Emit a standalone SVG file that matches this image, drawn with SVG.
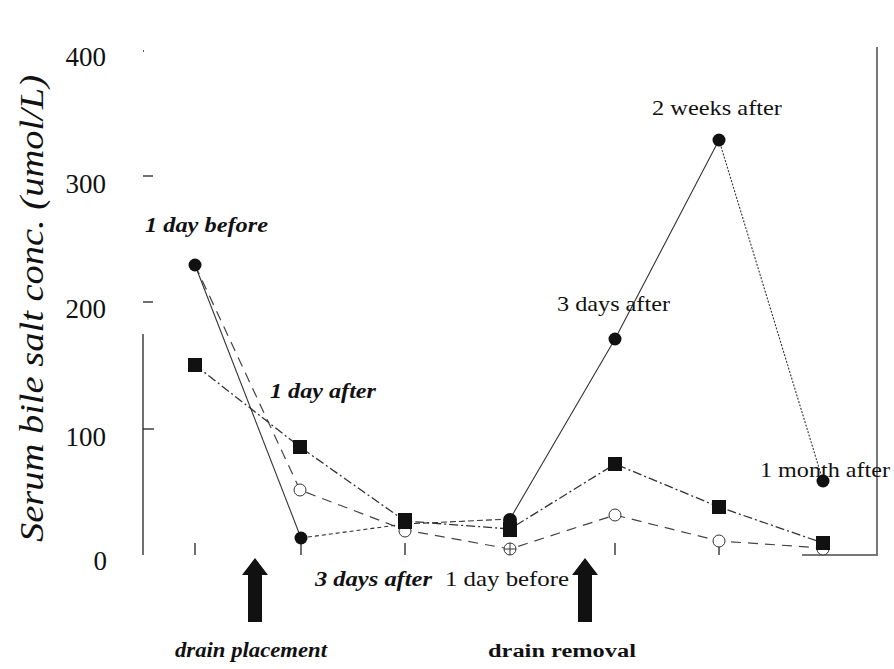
<svg xmlns="http://www.w3.org/2000/svg" width="894" height="669" viewBox="0 0 894 669">
<defs>
<style>
.num{font-family:"Liberation Serif",serif;font-size:27px;fill:#111}
.lbl{font-family:"Liberation Serif",serif;font-size:21px;fill:#111}
.bi{font-family:"Liberation Serif",serif;font-size:21px;font-weight:bold;font-style:italic;fill:#111}
.b{font-family:"Liberation Serif",serif;font-size:18px;font-weight:bold;fill:#111}
.ax{stroke:#222;stroke-width:1.3;fill:none}
.box{stroke:#777;stroke-width:2;fill:none}
.sa{stroke:#333;stroke-width:1.1;fill:none}
.sb{stroke:#333;stroke-width:1.3;fill:none;stroke-dasharray:9,3,2,3}
.sc{stroke:#444;stroke-width:1.2;fill:none;stroke-dasharray:10,7}
.fc{fill:#111}
.sq{fill:#111}
.oc{fill:#fff;stroke:#333;stroke-width:1}
.arr{fill:#111}
</style>
</defs>
<rect width="894" height="669" fill="#fff"/>
<g id="axes">
<line class="ax" x1="143" y1="334" x2="143" y2="555"/>
<line class="ax" x1="143" y1="51" x2="144" y2="51"/>
<line class="ax" x1="143" y1="176" x2="153" y2="176"/>
<line class="ax" x1="143" y1="302" x2="153" y2="302"/>
<line class="ax" x1="143" y1="429" x2="154" y2="429"/>
<line class="ax" x1="195" y1="543" x2="195" y2="555"/>
<line class="ax" x1="301" y1="543" x2="301" y2="555"/>
<line class="ax" x1="405" y1="543" x2="405" y2="555"/>
<line class="ax" x1="510" y1="543" x2="510" y2="555"/>
<line class="ax" x1="615" y1="543" x2="615" y2="555"/>
<line class="ax" x1="719" y1="543" x2="719" y2="555"/>
<polyline class="box" points="802,555 877,555 877,47"/>
<text class="num" x="106" y="66" text-anchor="end">400</text>
<text class="num" x="106" y="193" text-anchor="end">300</text>
<text class="num" x="106" y="318" text-anchor="end">200</text>
<text class="num" x="106" y="446" text-anchor="end">100</text>
<text class="num" x="107" y="570" text-anchor="end">0</text>
<text transform="translate(43,542) rotate(-90)" font-family="Liberation Serif, serif" font-style="italic" font-size="34" fill="#111" textLength="467" lengthAdjust="spacingAndGlyphs">Serum bile salt conc. (umol/L)</text>
</g>
<g id="connectors">
<polyline class="sc" points="195,265 300,490 405,530 510,549 615,515 719,541 823,548"/>
<polyline class="sb" points="195,365 300,447 405,521 510,529 615,464 719,507 823,543"/>
<line class="sa" x1="195" y1="265" x2="301" y2="538"/>
<line class="sa" x1="301" y1="538" x2="405" y2="524" stroke-dasharray="4,3"/>
<line class="sa" x1="405" y1="524" x2="510" y2="519" stroke-dasharray="6,3"/>
<polyline class="sa" points="510,519 615,339 719,140"/>
<line class="sa" x1="719" y1="140" x2="823" y2="481" stroke-dasharray="2,1.5"/>
</g>
<g id="open-circles">
<circle class="oc" cx="300" cy="490" r="6"/>
<circle class="oc" cx="405" cy="531" r="6"/>
<g id="oc4"><circle class="oc" cx="510" cy="549" r="6"/><line x1="504" y1="549" x2="516" y2="549" stroke="#333"/><line x1="510" y1="543" x2="510" y2="555" stroke="#333"/></g>
<circle class="oc" cx="615" cy="515" r="6"/>
<circle class="oc" cx="719" cy="541" r="6"/>
<circle class="oc" cx="823" cy="549" r="6"/>
</g>
<g id="squares">
<rect class="sq" x="188" y="358" width="14" height="14"/>
<rect class="sq" x="293" y="440" width="14" height="14"/>
<rect class="sq" x="398" y="513" width="14" height="16"/>
<rect class="sq" x="503" y="522" width="14" height="15"/>
<rect class="sq" x="608" y="457" width="14" height="14"/>
<rect class="sq" x="712" y="500" width="14" height="14"/>
<rect class="sq" x="816" y="536" width="14" height="14"/>
</g>
<g id="filled-circles">
<circle class="fc" cx="195" cy="265" r="6.5"/>
<circle class="fc" cx="301" cy="538" r="6.5"/>
<circle class="fc" cx="510" cy="520" r="7"/>
<circle class="fc" cx="615" cy="339" r="6.5"/>
<circle class="fc" cx="719" cy="140" r="6.5"/>
<circle class="fc" cx="823" cy="481" r="6.5"/>
</g>
<g id="labels">
<text class="bi" x="145" y="232" textLength="123" lengthAdjust="spacingAndGlyphs">1 day before</text>
<text class="bi" x="270" y="398" textLength="106" lengthAdjust="spacingAndGlyphs">1 day after</text>
<text class="lbl" x="652" y="115" textLength="130" lengthAdjust="spacingAndGlyphs">2 weeks after</text>
<text class="lbl" x="557" y="311" textLength="113" lengthAdjust="spacingAndGlyphs">3 days after</text>
<text class="lbl" x="760" y="477" textLength="130" lengthAdjust="spacingAndGlyphs">1 month after</text>
<text class="bi" x="315" y="586" textLength="117" lengthAdjust="spacingAndGlyphs">3 days after</text>
<text class="lbl" x="445" y="586" textLength="124" lengthAdjust="spacingAndGlyphs">1 day before</text>
<text class="bi" x="175" y="657" font-size="18" textLength="152" lengthAdjust="spacingAndGlyphs">drain placement</text>
<text class="b" x="488" y="657" textLength="148" lengthAdjust="spacingAndGlyphs">drain removal</text>
</g>
<g id="arrow-placement"><polygon class="arr" points="255,558 268,575 262,575 262,622 248,622 248,575 242,575"/></g>
<g id="arrow-removal"><polygon class="arr" points="585,558 598,575 592,575 592,622 578,622 578,575 572,575"/></g>
</svg>
